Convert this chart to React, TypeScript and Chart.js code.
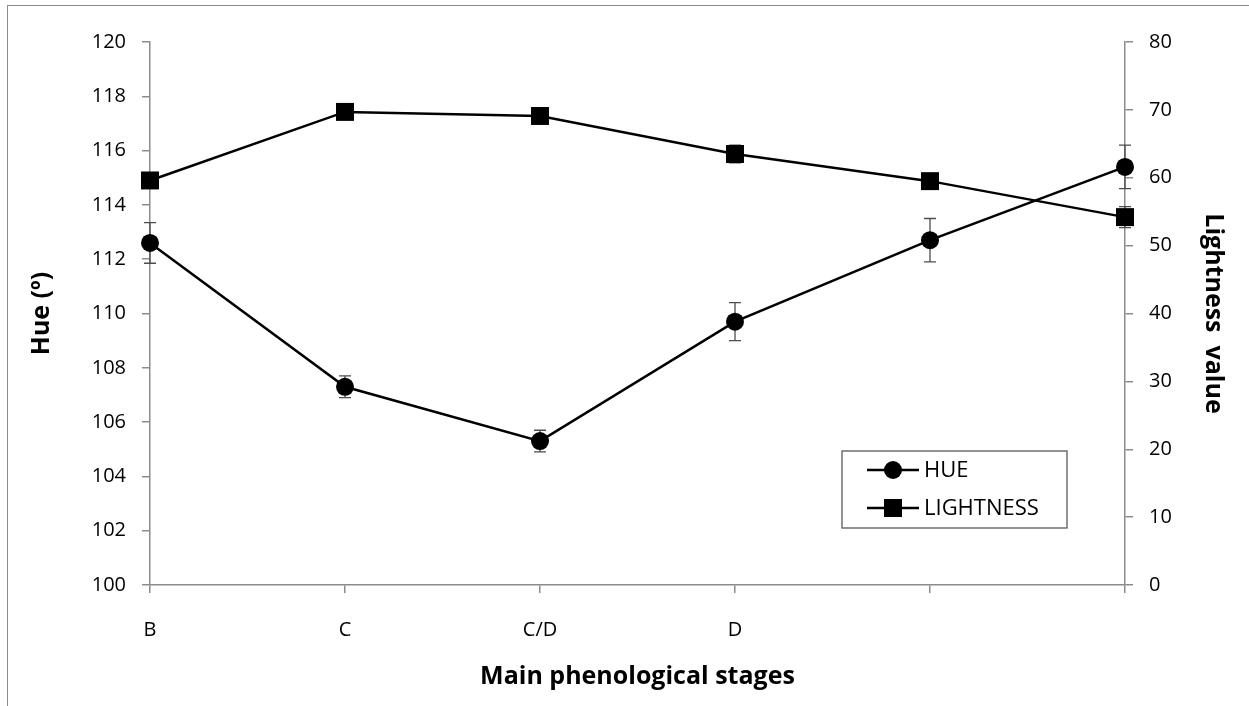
import React, { useEffect, useRef } from 'react';
import { Chart, registerables } from 'chart.js';

Chart.register(...registerables);

const stages = ['B', 'C', 'C/D', 'D', '', ''];
const hueValues = [112.6, 107.3, 105.3, 109.7, 112.7, 115.4];
const hueErrors = [0.75, 0.4, 0.4, 0.7, 0.8, 0.8];
const lightnessValues = [59.6, 69.7, 69.1, 63.5, 59.5, 54.2];
const lightnessErrors = [0.6, 0.5, 0.5, 1.3, 0.5, 1.55];
const hueTicks = [100, 102, 104, 106, 108, 110, 112, 114, 116, 118, 120];
const lightnessTicks = [0, 10, 20, 30, 40, 50, 60, 70, 80];
const legendLabels = ['HUE', 'LIGHTNESS'];

const FONT = "'Open Sans', 'Noto Sans', sans-serif";
const AXIS_GRAY = '#8c8c8c';

const errorsByDataset = [hueErrors, lightnessErrors];

const errorBarPlugin = {
  id: 'errorBars',
  beforeDatasetsDraw(chart: any) {
    const ctx = chart.ctx;
    chart.data.datasets.forEach((ds: any, i: number) => {
      const meta = chart.getDatasetMeta(i);
      const yScale = chart.scales[ds.yAxisID];
      const errs = errorsByDataset[i];
      meta.data.forEach((pt: any, j: number) => {
        const v = ds.data[j];
        const e = errs[j];
        const yTop = yScale.getPixelForValue(v + e);
        const yBot = yScale.getPixelForValue(v - e);
        const x = pt.x;
        ctx.save();
        ctx.strokeStyle = '#4d4d4d';
        ctx.lineWidth = 1.3;
        ctx.beginPath();
        ctx.moveTo(x, yTop);
        ctx.lineTo(x, yBot);
        ctx.moveTo(x - 6, yTop);
        ctx.lineTo(x + 6, yTop);
        ctx.moveTo(x - 6, yBot);
        ctx.lineTo(x + 6, yBot);
        ctx.stroke();
        ctx.restore();
      });
    });
  },
};

const legendPlugin = {
  id: 'insideLegend',
  afterDraw(chart: any) {
    const ctx = chart.ctx;
    const ca = chart.chartArea;
    const boxLeft = ca.right - 283;
    const boxTop = ca.bottom - 134;
    const boxW = 225;
    const boxH = 77;
    ctx.save();
    ctx.fillStyle = '#ffffff';
    ctx.fillRect(boxLeft, boxTop, boxW, boxH);
    ctx.strokeStyle = '#595959';
    ctx.lineWidth = 1.3;
    ctx.strokeRect(boxLeft, boxTop, boxW, boxH);
    const rows = [boxTop + 19, boxTop + 57];
    chart.data.datasets.forEach((ds: any, i: number) => {
      const cy = rows[i];
      const lx0 = boxLeft + 25;
      const lx1 = boxLeft + 77;
      const cx = (lx0 + lx1) / 2;
      ctx.strokeStyle = '#000';
      ctx.lineWidth = 2.5;
      ctx.beginPath();
      ctx.moveTo(lx0, cy);
      ctx.lineTo(lx1, cy);
      ctx.stroke();
      ctx.fillStyle = '#000';
      if (ds.pointStyle === 'circle') {
        ctx.beginPath();
        ctx.arc(cx, cy, 9, 0, Math.PI * 2);
        ctx.fill();
      } else {
        ctx.fillRect(cx - 9, cy - 9, 18, 18);
      }
      ctx.font = `22px ${FONT}`;
      ctx.textBaseline = 'middle';
      ctx.textAlign = 'left';
      ctx.fillStyle = '#000';
      ctx.fillText(legendLabels[i], lx1 + 5, cy + 1);
    });
    ctx.restore();
  },
};

export default function App() {
  const canvasRef = useRef<HTMLCanvasElement | null>(null);

  useEffect(() => {
    document.body.style.overflow = 'hidden';
    const canvas = canvasRef.current;
    if (!canvas) return;
    const chart = new Chart(canvas, {
      type: 'line',
      data: {
        labels: stages,
        datasets: [
          {
            label: legendLabels[0],
            data: hueValues,
            yAxisID: 'yHue',
            borderColor: '#000',
            backgroundColor: '#000',
            borderWidth: 2.5,
            pointStyle: 'circle',
            pointRadius: 9,
            pointHoverRadius: 9,
            pointBackgroundColor: '#000',
            pointBorderColor: '#000',
            pointBorderWidth: 0,
            tension: 0,
            clip: false as any,
          },
          {
            label: legendLabels[1],
            data: lightnessValues,
            yAxisID: 'yLight',
            borderColor: '#000',
            backgroundColor: '#000',
            borderWidth: 2.5,
            pointStyle: 'rect',
            pointRadius: 12.7,
            pointHoverRadius: 12.7,
            pointBackgroundColor: '#000',
            pointBorderColor: '#000',
            pointBorderWidth: 0,
            tension: 0,
            clip: false as any,
          },
        ],
      },
      options: {
        responsive: false,
        animation: false,
        layout: { padding: { top: 42, left: 0, right: 0, bottom: 0 } },
        plugins: {
          legend: { display: false },
          tooltip: { enabled: false },
        },
        scales: {
          x: {
            type: 'category',
            offset: false,
            grid: {
              display: true,
              drawOnChartArea: false,
              drawTicks: true,
              tickLength: 8,
              color: AXIS_GRAY,
              lineWidth: 1.5,
              offset: false,
            },
            border: { display: true, color: AXIS_GRAY, width: 1.5 },
            ticks: {
              color: '#000',
              font: { family: FONT, size: 20 },
              padding: 25,
              maxRotation: 0,
              autoSkip: false,
            },
            title: {
              display: true,
              text: 'Main phenological stages',
              color: '#000',
              font: { family: FONT, size: 25, weight: 'bold' },
              padding: { top: 0, bottom: 14 },
            },
            afterFit(scale: any) {
              scale.height = 121;
            },
          },
          yHue: {
            type: 'linear',
            position: 'left',
            min: 100,
            max: 120,
            afterBuildTicks(scale: any) {
              scale.ticks = hueTicks.map((v) => ({ value: v }));
            },
            grid: {
              display: true,
              drawOnChartArea: false,
              drawTicks: true,
              tickLength: 8,
              color: AXIS_GRAY,
              lineWidth: 1.5,
            },
            border: { display: true, color: AXIS_GRAY, width: 1.5 },
            ticks: {
              color: '#000',
              font: { family: FONT, size: 20 },
              padding: 16,
            },
            title: {
              display: true,
              text: 'Hue (º)',
              color: '#000',
              font: { family: FONT, size: 25, weight: 'bold' },
              padding: { top: 27, bottom: 0 },
            },
            afterFit(scale: any) {
              scale.width = 150;
            },
          },
          yLight: {
            type: 'linear',
            position: 'right',
            min: 0,
            max: 80,
            afterBuildTicks(scale: any) {
              scale.ticks = lightnessTicks.map((v) => ({ value: v }));
            },
            grid: {
              display: true,
              drawOnChartArea: false,
              drawTicks: true,
              tickLength: 8,
              color: AXIS_GRAY,
              lineWidth: 1.5,
            },
            border: { display: true, color: AXIS_GRAY, width: 1.5 },
            ticks: {
              color: '#000',
              font: { family: FONT, size: 20 },
              padding: 16,
            },
            title: {
              display: true,
              text: 'Lightness  value',
              color: '#000',
              font: { family: FONT, size: 25, weight: 'bold' },
              padding: { top: 21, bottom: 0 },
            },
            afterFit(scale: any) {
              scale.width = 124;
            },
          },
        },
      },
      plugins: [errorBarPlugin, legendPlugin],
    });
    return () => chart.destroy();
  }, []);

  return (
    <div style={{ position: 'relative', width: 1249, height: 706 }}>
      <div
        style={{
          position: 'fixed',
          left: 7,
          top: 5,
          width: 1242,
          height: 701,
          borderTop: '1px solid #8c8c8c',
          borderLeft: '1px solid #8c8c8c',
          boxSizing: 'border-box',
        }}
      />
      <canvas
        ref={canvasRef}
        width={1249}
        height={706}
        style={{ position: 'fixed', left: 0, top: 0, width: 1249, height: 706 }}
      />
    </div>
  );
}
